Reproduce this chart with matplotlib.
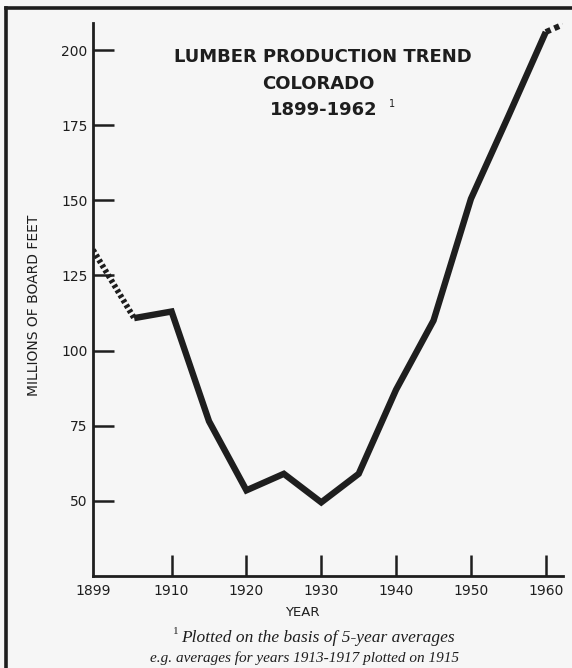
import matplotlib
matplotlib.use("Agg")
import matplotlib.pyplot as plt
from matplotlib.lines import Line2D

# Data (5-year averages, millions of board feet)
early_years = [1899.5, 1905]
early_values = [133.5, 110.8]
years = [1905, 1910, 1915, 1920, 1925, 1930, 1935, 1940, 1945, 1950, 1955, 1960]
values = [110.8, 113, 76.5, 53.5, 59, 49.5, 59, 87, 110, 150.5, 178, 206]
late_years = [1960, 1962.3]
late_values = [206, 208.5]

xtick_pos = [1899.5, 1910, 1920, 1930, 1940, 1950, 1960]
xtick_labels = ["1899", "1910", "1920", "1930", "1940", "1950", "1960"]
ytick_pos = [50, 75, 100, 125, 150, 175, 200]
ytick_labels = ["50", "75", "100", "125", "150", "175", "200"]

bg = "#f6f6f6"
ink = "#1e1e1e"

fig = plt.figure(figsize=(5.72, 6.68), dpi=100, facecolor=bg)
ax = fig.add_axes([93/572, 1-576/668, (563-93)/572, (576-23)/668])
ax.set_facecolor(bg)

ax.plot(years, values, color=ink, lw=4.6, solid_joinstyle="miter", solid_capstyle="butt")
ax.plot(early_years, early_values, color=ink, lw=4.2, linestyle=(0, (0.55, 0.45)))
ax.plot(late_years, late_values, color=ink, lw=4.2, linestyle=(0, (0.9, 0.7)))

ax.set_xlim(1899.5, 1962.3)
ax.set_ylim(25, 209)

for s in ["top", "right"]:
    ax.spines[s].set_visible(False)
for s in ["left", "bottom"]:
    ax.spines[s].set_linewidth(2.0)
    ax.spines[s].set_color(ink)

ax.set_xticks(xtick_pos)
ax.set_xticklabels(xtick_labels, fontsize=10, color=ink)
ax.set_yticks(ytick_pos)
ax.set_yticklabels(ytick_labels, fontsize=10, color=ink)
ax.tick_params(axis="both", direction="in", length=15, width=1.8, color=ink)
ax.tick_params(axis="x", pad=6)
ax.tick_params(axis="y", pad=4)
ax.get_xticklines()[0].set_visible(False)

ax.set_ylabel("MILLIONS OF BOARD FEET", fontsize=10, color=ink)
ax.yaxis.set_label_coords(-0.111, 0.49)
fig.text(302/572, 1-613/668, "YEAR", fontsize=9.5, ha="center", va="center", color=ink)

# Title
title_kw = dict(fontsize=13, fontweight="bold", ha="center", va="center", color=ink)
fig.text(323/572, 1-57/668, "LUMBER PRODUCTION TREND", **title_kw)
fig.text(318/572, 1-84/668, "COLORADO", **title_kw)
fig.text(324/572, 1-110/668, "1899-1962", **title_kw)
fig.text(389/572, 1-104/668, "1", fontsize=7, ha="left", va="center", color=ink)

# Footnote
foot_kw = dict(style="italic", family="Liberation Serif", va="center", color=ink)
fig.text(181/572, 1-638/668, "Plotted on the basis of 5-year averages", ha="left",
         fontsize=12.5, **foot_kw)
fig.text(176/572, 1-632/668, "1", fontsize=8, family="Liberation Serif", ha="center", va="center", color=ink)
fig.text(305/572, 1-658/668, "e.g. averages for years 1913-1917 plotted on 1915", ha="center",
         fontsize=11, **foot_kw)

# Frame (left and top edges)
fig.add_artist(Line2D([5.5/572, 5.5/572], [0, 1-8/668], transform=fig.transFigure, color=ink, lw=2.6))
fig.add_artist(Line2D([5.5/572, 1], [1-8/668, 1-8/668], transform=fig.transFigure, color=ink, lw=2.6))

fig.savefig("out.png", dpi=100, facecolor=bg)
